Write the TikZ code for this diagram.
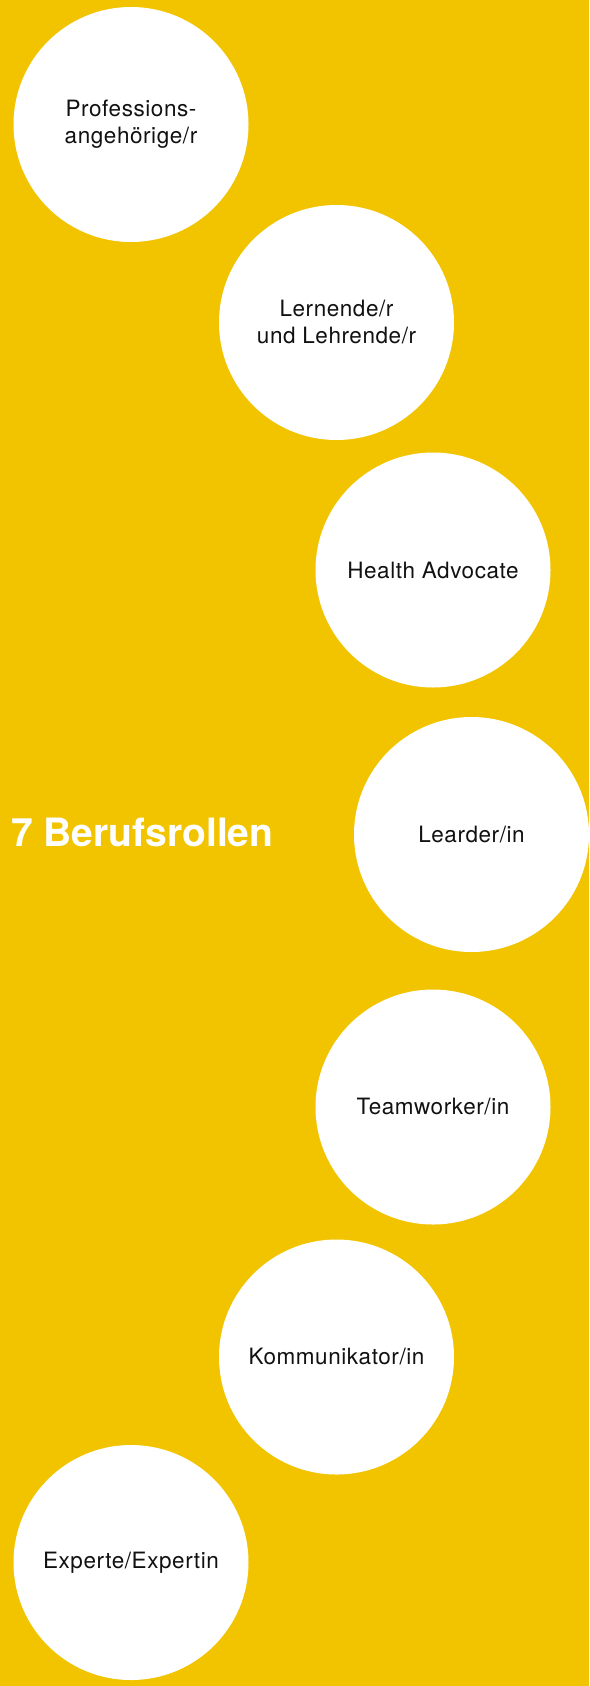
\documentclass[tikz,border=0pt]{standalone}
\usepackage{fontspec}
\setmainfont{TeX Gyre Heros}
\newfontfamily\rollenfont[LetterSpace=2.5]{TeX Gyre Heros}
\usepackage{tikz}
\usetikzlibrary{positioning}
\definecolor{rollengelb}{RGB}{242,196,0}
\tikzset{%
    role/.style={circle, fill=white, minimum size=235pt, inner sep=0pt, align=center, text={rgb,255:red,17;green,17;blue,17}},
    heading/.style={text=white, inner sep=0pt, anchor=base west}
}

\begin{document}
\begin{tikzpicture}[x=1pt,y=-1pt]
		\tikzstyle{every node}=[font=\rollenfont\fontsize{22.5}{27}\selectfont]

		\useasboundingbox (0,0) rectangle (589,1686);
		\fill[rollengelb] (0,0) rectangle (589,1686);

		\node[role]   	(profession)  	at (131,124.5)		{Professions-\\angehörige/r};
		\node[role] 	(lernende) 		at (336.5,322.5)	{Lernende/r\\und Lehrende/r};
		\node[role]     (advocate) 		at (433,570)		{Health Advocate};
		\node[role]     (leader) 		at (471.5,834.5)	{Learder/in};
		\node[role]     (teamworker)	at (433,1107)		{Teamworker/in};
		\node[role]     (kommunikator)	at (336.5,1357)		{Kommunikator/in};
		\node[role]     (experte)		at (131,1562.5)		{Experte/Expertin};

		\node[heading,font=\fontsize{39}{44}\selectfont\bfseries] (rollen) at (11,846) {7 Berufsrollen};
	\end{tikzpicture}
\end{document}
